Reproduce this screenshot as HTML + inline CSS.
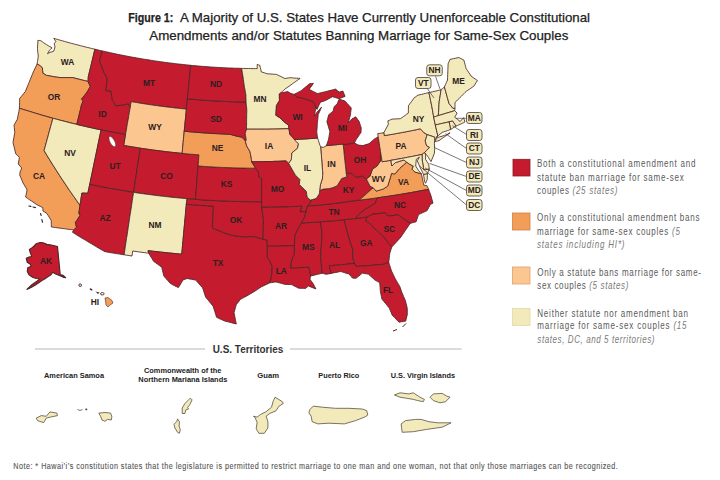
<!DOCTYPE html>
<html><head><meta charset="utf-8"><style>
html,body{margin:0;padding:0;background:#fff;width:720px;height:480px;overflow:hidden}
svg{display:block;font-family:"Liberation Sans",sans-serif}
</style></head><body>
<svg width="720" height="480" viewBox="0 0 720 480">
<rect width="720" height="480" fill="#fff"/>
<g font-size="12.9" fill="#222" stroke="#222" stroke-width="0.25">
<text x="128.3" y="21.7" textLength="45" lengthAdjust="spacingAndGlyphs" font-weight="bold">Figure 1:</text>
<text x="180" y="21.7" textLength="410" lengthAdjust="spacingAndGlyphs">A Majority of U.S. States Have Currently Unenforceable Constitutional</text>
<text x="149.3" y="40" textLength="419" lengthAdjust="spacingAndGlyphs">Amendments and/or Statutes Banning Marriage for Same-Sex Couples</text>
</g>
<g stroke="#4a2626" stroke-width="0.85" stroke-linejoin="round">
<path d="M37.9,40.3 L39.3,40.5 L40.8,40.7 L42.2,41.7 L43.6,42.7 L45.0,43.7 L46.7,44.7 L48.3,45.7 L50.0,46.7 L51.1,47.2 L52.1,47.8 L50.7,49.2 L49.2,50.6 L48.4,52.2 L47.5,53.7 L48.8,53.0 L50.0,52.4 L51.9,51.8 L53.7,51.2 L54.4,49.1 L55.0,47.0 L54.6,45.4 L54.2,43.7 L55.8,41.6 L54.8,39.9 L53.8,38.3 L55.5,38.8 L57.3,39.4 L59.1,39.9 L60.9,40.4 L62.7,40.9 L64.4,41.4 L66.2,41.9 L68.0,42.4 L69.8,42.9 L71.6,43.4 L73.4,43.8 L75.2,44.3 L77.0,44.8 L78.8,45.2 L80.5,45.7 L82.3,46.2 L84.1,46.6 L85.9,47.1 L87.7,47.5 L89.5,47.9 L91.3,48.4 L93.1,48.8 L94.9,49.2 L94.3,51.7 L93.7,54.2 L93.1,56.7 L92.5,59.2 L91.9,61.7 L91.3,64.2 L90.7,66.7 L90.1,69.2 L89.5,71.7 L88.9,74.2 L88.3,76.7 L88.2,79.1 L88.1,81.5 L86.3,81.0 L84.6,80.6 L82.8,80.2 L81.1,79.8 L79.4,79.3 L77.6,78.9 L75.9,78.4 L74.1,78.0 L72.4,77.5 L71.1,77.6 L69.8,77.6 L67.8,77.6 L65.9,77.6 L63.9,77.6 L62.0,77.6 L60.0,77.6 L58.2,77.3 L56.3,77.1 L54.5,76.8 L52.9,76.5 L51.2,76.2 L49.6,75.9 L47.9,75.6 L46.3,75.3 L45.1,74.6 L44.0,73.9 L42.8,73.1 L42.6,70.5 L42.4,67.8 L40.8,66.4 L39.2,65.1 L38.1,64.6 L37.0,64.1 L37.5,61.5 L37.9,58.9 L38.3,56.2 L38.0,53.7 L37.7,51.2 L37.5,48.7 L37.6,45.9 L37.8,43.1Z" fill="#f2eabb"/><path d="M37.0,64.1 L38.1,64.6 L39.2,65.1 L40.8,66.4 L42.4,67.8 L42.6,70.5 L42.8,73.1 L44.0,73.9 L45.1,74.6 L46.3,75.3 L47.9,75.6 L49.6,75.9 L51.2,76.2 L52.9,76.5 L54.5,76.8 L56.3,77.1 L58.2,77.3 L60.0,77.6 L62.0,77.6 L63.9,77.6 L65.9,77.6 L67.8,77.6 L69.8,77.6 L71.1,77.6 L72.4,77.5 L74.1,78.0 L75.9,78.4 L77.6,78.9 L79.4,79.3 L81.1,79.8 L82.8,80.2 L84.6,80.6 L86.3,81.0 L88.1,81.5 L89.2,84.0 L90.3,86.5 L88.9,89.0 L87.4,91.5 L86.0,93.5 L84.5,95.4 L83.0,97.3 L81.5,99.2 L83.2,100.8 L82.4,102.9 L81.5,104.9 L80.9,107.4 L80.4,109.8 L79.8,112.2 L79.2,114.7 L78.6,117.1 L78.0,119.5 L77.4,122.0 L76.8,124.4 L74.8,123.9 L72.8,123.4 L70.8,122.9 L68.9,122.4 L66.9,121.9 L64.9,121.4 L62.9,120.9 L60.9,120.4 L58.9,119.9 L56.9,119.3 L54.9,118.8 L52.9,118.3 L50.9,117.7 L49.0,117.2 L47.0,116.6 L45.0,116.0 L43.0,115.5 L41.0,114.9 L39.1,114.3 L37.1,113.7 L35.1,113.1 L33.2,112.5 L31.2,111.9 L29.2,111.3 L27.3,110.7 L25.3,110.1 L23.3,109.5 L21.4,108.9 L19.4,108.2 L19.5,105.3 L19.6,102.5 L19.6,100.5 L19.6,98.5 L21.1,96.7 L22.5,95.0 L23.9,93.2 L25.4,91.5 L26.3,89.1 L27.3,86.8 L28.2,84.5 L29.2,82.2 L30.2,79.6 L31.3,77.0 L32.3,74.5 L33.3,71.9 L34.3,70.0 L35.2,68.0 L36.1,66.1Z" fill="#f29d58"/><path d="M19.4,108.2 L21.4,108.9 L23.3,109.5 L25.3,110.1 L27.3,110.7 L29.2,111.3 L31.2,111.9 L33.2,112.5 L35.1,113.1 L37.1,113.7 L39.1,114.3 L41.1,114.9 L43.0,115.5 L45.0,116.0 L47.0,116.6 L49.0,117.2 L51.0,117.7 L52.9,118.3 L52.2,120.9 L51.5,123.6 L50.7,126.3 L50.0,129.0 L49.2,131.7 L48.5,134.4 L47.8,137.1 L47.0,139.8 L46.3,142.5 L45.6,145.2 L44.8,147.8 L44.1,150.5 L45.6,153.1 L47.1,155.6 L48.6,158.1 L50.2,160.6 L51.7,163.1 L53.3,165.6 L54.9,168.1 L56.5,170.6 L58.1,173.1 L59.7,175.6 L61.3,178.1 L63.0,180.6 L64.6,183.0 L66.3,185.5 L67.9,188.0 L69.6,190.5 L71.3,192.9 L73.0,195.4 L74.8,197.9 L76.5,200.3 L78.2,202.8 L80.0,205.2 L79.6,207.8 L79.3,210.4 L78.9,213.0 L80.0,215.5 L78.5,217.8 L77.0,220.2 L75.4,222.5 L76.0,224.9 L76.5,227.3 L75.2,228.6 L73.8,229.9 L71.6,229.6 L69.3,229.4 L67.1,229.1 L64.8,228.8 L62.6,228.5 L60.3,228.2 L58.1,227.9 L55.8,227.6 L53.6,227.3 L51.3,226.9 L51.3,224.7 L51.2,222.6 L51.2,220.4 L49.8,218.1 L48.4,215.9 L47.0,213.6 L45.0,212.2 L42.9,210.9 L42.9,209.2 L42.8,207.6 L40.8,206.6 L38.9,205.7 L36.9,204.7 L35.0,203.4 L33.1,202.1 L31.2,200.8 L29.3,199.6 L27.5,198.3 L25.6,197.0 L26.1,194.6 L26.6,192.2 L27.1,189.9 L25.7,187.5 L24.4,185.2 L23.0,182.9 L21.9,180.2 L20.8,177.6 L19.7,174.9 L19.9,173.3 L20.2,171.6 L21.0,169.8 L21.7,168.0 L20.0,166.0 L18.3,164.0 L18.6,161.8 L19.0,159.6 L19.4,157.3 L17.6,155.6 L15.8,153.9 L15.1,151.1 L14.4,148.2 L13.7,145.3 L13.0,142.5 L13.4,140.0 L13.9,137.5 L14.3,135.0 L14.8,132.5 L14.5,130.1 L14.3,127.7 L14.0,125.2 L15.1,123.2 L16.2,121.3 L17.3,119.3 L17.8,116.7 L18.3,114.1 L18.9,111.6 L19.1,109.9Z" fill="#f29d58"/><path d="M52.9,118.3 L54.9,118.8 L56.9,119.3 L58.9,119.9 L60.9,120.4 L62.9,120.9 L64.9,121.4 L66.9,122.0 L68.9,122.5 L70.9,123.0 L72.9,123.5 L74.9,123.9 L76.9,124.4 L78.9,124.9 L80.9,125.4 L83.0,125.9 L85.0,126.3 L87.0,126.8 L89.0,127.2 L91.0,127.7 L93.0,128.1 L95.0,128.6 L97.1,129.0 L99.1,129.4 L101.1,129.8 L100.5,132.5 L100.0,135.1 L99.5,137.8 L98.9,140.4 L98.4,143.0 L97.8,145.7 L97.3,148.3 L96.7,150.9 L96.2,153.6 L95.6,156.2 L95.1,158.9 L94.5,161.5 L93.9,164.2 L93.4,166.8 L92.8,169.4 L92.3,172.1 L91.7,174.7 L91.2,177.4 L90.6,180.0 L90.1,182.7 L89.5,185.3 L89.0,187.9 L88.4,190.6 L87.9,193.2 L85.9,193.2 L83.9,193.1 L81.9,193.1 L81.5,195.5 L81.1,198.0 L80.8,200.4 L80.4,202.8 L80.0,205.2 L78.2,202.8 L76.5,200.3 L74.8,197.9 L73.0,195.4 L71.3,192.9 L69.6,190.5 L67.9,188.0 L66.3,185.5 L64.6,183.0 L63.0,180.6 L61.3,178.1 L59.7,175.6 L58.1,173.1 L56.5,170.6 L54.9,168.1 L53.3,165.6 L51.7,163.1 L50.2,160.6 L48.6,158.1 L47.1,155.6 L45.6,153.1 L44.1,150.5 L44.8,147.8 L45.6,145.2 L46.3,142.5 L47.0,139.8 L47.8,137.1 L48.5,134.4 L49.2,131.7 L50.0,129.0 L50.7,126.3 L51.5,123.6 L52.2,120.9Z" fill="#f2eabb"/><path d="M94.9,49.2 L96.7,49.6 L98.5,50.1 L100.3,50.5 L102.1,50.9 L101.6,53.1 L101.1,55.2 L100.6,57.4 L100.1,59.6 L99.6,61.8 L100.5,63.6 L101.5,65.4 L102.3,68.0 L103.1,70.7 L104.5,73.3 L105.9,75.9 L107.3,78.5 L107.0,80.9 L106.7,83.3 L106.5,85.7 L106.2,88.2 L105.9,90.6 L107.6,90.7 L109.3,90.9 L111.1,91.1 L111.4,93.8 L111.8,96.5 L112.2,99.2 L113.4,101.5 L114.6,103.7 L115.8,105.9 L117.9,105.6 L120.0,105.4 L122.1,105.1 L124.1,104.7 L126.2,104.3 L128.2,103.9 L129.2,105.5 L130.3,107.1 L129.8,109.8 L129.3,112.6 L128.8,115.3 L128.4,118.0 L127.9,120.8 L127.4,123.5 L126.9,126.3 L126.5,129.0 L126.0,131.7 L125.5,134.5 L123.5,134.1 L121.4,133.8 L119.4,133.4 L117.4,133.0 L115.3,132.6 L113.3,132.3 L111.3,131.9 L109.2,131.5 L107.2,131.1 L105.2,130.7 L103.1,130.3 L101.1,129.8 L99.1,129.4 L97.0,129.0 L95.0,128.6 L93.0,128.1 L91.0,127.7 L88.9,127.2 L86.9,126.8 L84.9,126.3 L82.9,125.8 L80.9,125.4 L78.9,124.9 L76.8,124.4 L77.4,122.0 L78.0,119.5 L78.6,117.1 L79.2,114.7 L79.8,112.2 L80.4,109.8 L80.9,107.4 L81.5,104.9 L82.4,102.9 L83.2,100.8 L81.5,99.2 L83.0,97.3 L84.5,95.4 L86.0,93.5 L87.4,91.5 L88.9,89.0 L90.3,86.5 L89.2,84.0 L88.1,81.5 L88.2,79.1 L88.3,76.7 L88.9,74.2 L89.5,71.7 L90.1,69.2 L90.7,66.7 L91.3,64.2 L91.9,61.7 L92.5,59.2 L93.1,56.7 L93.7,54.2 L94.3,51.7Z" fill="#c41c2e"/><path d="M102.1,50.9 L103.9,51.3 L105.7,51.7 L107.6,52.1 L109.4,52.5 L111.2,52.9 L113.0,53.3 L114.9,53.7 L116.7,54.1 L118.5,54.5 L120.4,54.8 L122.2,55.2 L124.0,55.6 L125.9,55.9 L127.7,56.3 L129.5,56.6 L131.4,57.0 L133.2,57.3 L135.1,57.6 L136.9,58.0 L138.8,58.3 L140.6,58.6 L142.4,58.9 L144.3,59.2 L146.1,59.5 L148.0,59.8 L149.8,60.1 L151.7,60.4 L153.5,60.7 L155.4,61.0 L157.2,61.2 L159.1,61.5 L160.9,61.8 L162.8,62.0 L164.6,62.3 L166.5,62.5 L168.3,62.8 L170.2,63.0 L172.1,63.2 L173.9,63.5 L175.8,63.7 L177.6,63.9 L179.5,64.1 L181.4,64.3 L183.2,64.5 L185.1,64.7 L186.9,64.9 L188.8,65.1 L190.7,65.3 L190.4,68.0 L190.1,70.7 L189.9,73.5 L189.6,76.2 L189.3,78.9 L189.1,81.7 L188.8,84.4 L188.5,87.1 L188.3,89.9 L188.0,92.6 L187.7,95.4 L187.5,98.1 L187.2,100.9 L186.9,103.6 L186.7,106.4 L186.4,109.1 L184.4,108.9 L182.4,108.7 L180.5,108.5 L178.5,108.3 L176.5,108.1 L174.5,107.9 L172.5,107.6 L170.6,107.4 L168.6,107.2 L166.6,106.9 L164.7,106.7 L162.7,106.4 L160.7,106.2 L158.7,105.9 L156.8,105.6 L154.8,105.4 L152.8,105.1 L150.9,104.8 L148.9,104.5 L146.9,104.2 L145.0,103.9 L143.0,103.6 L141.0,103.3 L139.1,103.0 L137.1,102.6 L135.1,102.3 L133.2,102.0 L131.2,101.6 L130.7,104.4 L130.3,107.1 L129.2,105.5 L128.2,103.9 L126.2,104.3 L124.1,104.7 L122.1,105.1 L120.0,105.4 L117.9,105.6 L115.8,105.9 L114.6,103.7 L113.4,101.5 L112.2,99.2 L111.8,96.5 L111.4,93.8 L111.1,91.1 L109.3,90.9 L107.6,90.7 L105.9,90.6 L106.2,88.2 L106.5,85.7 L106.7,83.3 L107.0,80.9 L107.3,78.5 L105.9,75.9 L104.5,73.3 L103.1,70.7 L102.3,68.0 L101.5,65.4 L100.5,63.6 L99.6,61.8 L100.1,59.6 L100.6,57.4 L101.1,55.2 L101.6,53.1Z" fill="#c41c2e"/><path d="M131.2,101.6 L133.2,102.0 L135.1,102.3 L137.1,102.6 L139.1,103.0 L141.0,103.3 L143.0,103.6 L145.0,103.9 L146.9,104.2 L148.9,104.5 L150.9,104.8 L152.8,105.1 L154.8,105.4 L156.8,105.6 L158.7,105.9 L160.7,106.2 L162.7,106.4 L164.7,106.7 L166.6,106.9 L168.6,107.2 L170.6,107.4 L172.5,107.6 L174.5,107.9 L176.5,108.1 L178.5,108.3 L180.5,108.5 L182.4,108.7 L184.4,108.9 L186.4,109.1 L186.1,111.9 L185.9,114.6 L185.6,117.4 L185.3,120.2 L185.0,122.9 L184.8,125.7 L184.5,128.4 L184.2,131.2 L184.0,134.0 L183.7,136.7 L183.4,139.5 L183.2,142.3 L182.9,145.1 L182.6,147.8 L182.4,150.6 L182.1,153.4 L180.0,153.2 L177.9,153.0 L175.8,152.7 L173.7,152.5 L171.6,152.3 L169.5,152.1 L167.4,151.8 L165.3,151.6 L163.2,151.3 L161.1,151.1 L159.0,150.8 L157.0,150.5 L154.9,150.3 L152.8,150.0 L150.7,149.7 L148.6,149.4 L146.5,149.1 L144.4,148.8 L142.3,148.5 L140.3,148.2 L138.2,147.9 L136.1,147.5 L134.0,147.2 L131.9,146.9 L129.8,146.5 L127.8,146.2 L125.7,145.8 L123.6,145.5 L124.1,142.7 L124.6,140.0 L125.0,137.2 L125.5,134.5 L126.0,131.7 L126.5,129.0 L126.9,126.3 L127.4,123.5 L127.9,120.8 L128.4,118.0 L128.8,115.3 L129.3,112.6 L129.8,109.8 L130.3,107.1 L130.7,104.4Z" fill="#fbc68f"/><path d="M101.0,129.8 L103.1,130.2 L105.1,130.7 L107.1,131.1 L109.2,131.5 L111.2,131.9 L113.2,132.3 L115.3,132.6 L117.3,133.0 L119.4,133.4 L121.4,133.8 L123.5,134.1 L125.5,134.5 L125.0,137.2 L124.6,140.0 L124.1,142.7 L123.6,145.5 L125.7,145.8 L127.8,146.2 L129.8,146.5 L131.9,146.9 L134.0,147.2 L136.1,147.5 L138.2,147.9 L140.3,148.2 L139.8,150.9 L139.4,153.7 L139.0,156.5 L138.6,159.2 L138.2,162.0 L137.7,164.7 L137.3,167.5 L136.9,170.2 L136.5,173.0 L136.1,175.8 L135.6,178.5 L135.2,181.3 L134.8,184.0 L134.4,186.8 L134.0,189.6 L133.6,192.3 L131.3,192.0 L129.1,191.7 L126.9,191.3 L124.7,190.9 L122.6,190.6 L120.4,190.2 L118.2,189.8 L116.0,189.5 L113.8,189.1 L111.6,188.7 L109.4,188.3 L107.2,187.9 L105.0,187.5 L102.8,187.1 L100.6,186.7 L98.4,186.2 L96.3,185.8 L94.1,185.4 L91.9,184.9 L89.7,184.5 L90.3,181.7 L90.8,179.0 L91.4,176.3 L92.0,173.5 L92.5,170.8 L93.1,168.1 L93.7,165.3 L94.2,162.6 L94.8,159.9 L95.4,157.1 L95.9,154.4 L96.5,151.7 L97.1,148.9 L97.6,146.2 L98.2,143.5 L98.8,140.7 L99.3,138.0 L99.9,135.3 L100.5,132.6Z" fill="#c41c2e"/><path d="M140.3,148.2 L142.3,148.5 L144.4,148.8 L146.5,149.1 L148.6,149.4 L150.7,149.7 L152.8,150.0 L154.9,150.3 L157.0,150.5 L159.0,150.8 L161.1,151.1 L163.2,151.3 L165.3,151.6 L167.4,151.8 L169.5,152.1 L171.6,152.3 L173.7,152.5 L175.8,152.7 L177.9,153.0 L180.0,153.2 L182.1,153.4 L184.2,153.6 L186.3,153.8 L188.4,154.0 L190.5,154.2 L192.6,154.3 L194.7,154.5 L196.8,154.7 L198.9,154.8 L198.7,157.6 L198.5,160.4 L198.3,163.2 L198.0,166.0 L197.8,168.7 L197.6,171.5 L197.4,174.3 L197.2,177.1 L197.0,179.9 L196.8,182.7 L196.6,185.4 L196.4,188.2 L196.1,191.0 L195.9,193.8 L195.7,196.6 L195.5,199.4 L193.3,199.2 L191.1,199.0 L188.9,198.8 L186.6,198.6 L184.4,198.5 L182.2,198.3 L180.0,198.0 L177.8,197.8 L175.5,197.6 L173.3,197.4 L171.1,197.2 L168.9,196.9 L166.7,196.7 L164.5,196.4 L162.3,196.2 L160.0,195.9 L157.8,195.7 L155.6,195.4 L153.4,195.1 L151.2,194.8 L149.0,194.5 L146.8,194.2 L144.6,193.9 L142.4,193.6 L140.2,193.3 L138.0,193.0 L135.8,192.7 L133.6,192.3 L134.0,189.6 L134.4,186.8 L134.8,184.0 L135.2,181.3 L135.6,178.5 L136.1,175.8 L136.5,173.0 L136.9,170.2 L137.3,167.5 L137.7,164.7 L138.2,162.0 L138.6,159.2 L139.0,156.5 L139.4,153.7 L139.8,150.9Z" fill="#c41c2e"/><path d="M89.7,184.5 L91.9,184.9 L94.1,185.4 L96.3,185.8 L98.4,186.2 L100.6,186.7 L102.8,187.1 L105.0,187.5 L107.2,187.9 L109.4,188.3 L111.6,188.7 L113.8,189.1 L116.0,189.5 L118.2,189.8 L120.4,190.2 L122.6,190.6 L124.7,190.9 L126.9,191.3 L129.1,191.7 L131.3,192.0 L133.6,192.3 L133.1,195.1 L132.7,197.8 L132.3,200.5 L131.9,203.2 L131.5,205.9 L131.1,208.7 L130.7,211.4 L130.2,214.1 L129.8,216.8 L129.4,219.5 L129.0,222.3 L128.6,225.0 L128.2,227.7 L127.8,230.4 L127.4,233.1 L127.0,235.8 L126.5,238.5 L126.1,241.3 L125.7,244.0 L125.3,246.7 L124.9,249.4 L124.5,252.1 L124.1,254.8 L121.9,254.5 L119.8,254.1 L117.7,253.8 L115.6,253.5 L113.4,253.1 L111.3,252.8 L109.2,252.4 L107.1,252.0 L105.0,251.7 L102.7,250.4 L100.5,249.2 L98.3,247.9 L96.1,246.6 L94.0,245.3 L91.8,244.0 L89.6,242.7 L87.4,241.4 L85.3,240.1 L83.1,238.8 L80.9,237.5 L78.8,236.2 L76.7,234.9 L74.5,233.5 L72.4,232.2 L73.8,229.9 L75.2,228.6 L76.5,227.3 L76.0,224.9 L75.4,222.5 L77.0,220.2 L78.5,217.8 L80.0,215.5 L78.9,213.0 L79.3,210.4 L79.6,207.8 L80.0,205.2 L80.4,202.8 L80.8,200.4 L81.1,198.0 L81.5,195.5 L81.9,193.1 L83.9,193.1 L85.9,193.2 L87.9,193.2 L88.3,191.0 L88.8,188.8 L89.2,186.7Z" fill="#c41c2e"/><path d="M133.6,192.3 L135.7,192.7 L137.8,193.0 L140.0,193.3 L142.1,193.6 L144.2,193.9 L146.4,194.2 L148.5,194.5 L150.6,194.7 L152.8,195.0 L154.9,195.3 L157.1,195.6 L159.2,195.8 L161.3,196.1 L163.5,196.3 L165.6,196.6 L167.8,196.8 L169.9,197.0 L172.0,197.3 L174.2,197.5 L176.3,197.7 L178.5,197.9 L180.6,198.1 L182.8,198.3 L184.9,198.5 L187.1,198.7 L186.8,201.5 L186.5,204.2 L186.3,207.0 L186.0,209.8 L185.7,212.6 L185.5,215.4 L185.2,218.1 L184.9,220.9 L184.7,223.7 L184.4,226.5 L184.1,229.2 L183.9,232.0 L183.6,234.8 L183.3,237.6 L183.1,240.3 L182.8,243.1 L182.5,245.9 L182.3,248.6 L182.0,251.4 L181.7,254.2 L179.5,254.0 L177.2,253.8 L175.0,253.6 L172.7,253.3 L170.5,253.1 L168.3,252.9 L166.0,252.7 L163.8,252.4 L161.5,252.2 L159.3,251.9 L157.0,251.7 L154.8,251.4 L152.6,251.2 L150.3,250.9 L148.1,250.6 L148.6,253.1 L146.4,252.9 L144.1,252.6 L141.8,252.3 L139.5,252.0 L137.3,251.7 L135.0,251.3 L132.7,251.0 L132.4,253.5 L132.0,256.0 L130.0,255.7 L128.1,255.4 L126.1,255.1 L124.1,254.8 L124.5,252.1 L124.9,249.4 L125.3,246.7 L125.7,244.0 L126.1,241.3 L126.5,238.5 L127.0,235.8 L127.4,233.1 L127.8,230.4 L128.2,227.7 L128.6,225.0 L129.0,222.3 L129.4,219.5 L129.8,216.8 L130.2,214.1 L130.7,211.4 L131.1,208.7 L131.5,205.9 L131.9,203.2 L132.3,200.5 L132.7,197.8 L133.1,195.1Z" fill="#f2eabb"/><path d="M186.2,204.2 L188.3,204.4 L190.4,204.6 L192.5,204.7 L194.6,204.9 L196.7,205.1 L198.8,205.2 L200.9,205.4 L203.0,205.5 L205.1,205.6 L207.2,205.8 L209.3,205.9 L211.3,206.0 L213.4,206.1 L213.3,208.8 L213.2,211.5 L213.0,214.2 L212.9,216.9 L212.7,219.6 L212.6,222.3 L212.4,225.0 L212.3,227.7 L214.5,228.8 L216.8,229.8 L219.1,230.7 L221.3,231.6 L223.6,232.6 L225.9,233.5 L228.2,234.1 L230.5,234.8 L232.8,235.4 L235.1,236.0 L237.2,236.2 L239.2,236.4 L241.3,236.6 L243.4,236.8 L245.5,236.7 L247.5,236.7 L249.5,236.6 L251.6,236.6 L253.6,236.5 L255.5,237.0 L257.3,237.5 L259.2,238.0 L261.2,238.6 L263.1,239.2 L265.2,239.7 L267.2,240.2 L267.2,242.2 L267.3,244.1 L267.3,246.1 L267.3,248.4 L267.3,250.7 L267.4,253.0 L267.4,255.3 L267.4,257.5 L268.6,259.1 L269.7,260.7 L271.0,263.5 L272.2,266.3 L272.1,268.8 L272.0,271.4 L271.8,274.0 L271.4,276.5 L270.9,279.0 L270.2,281.0 L269.5,282.9 L267.5,283.9 L265.4,284.9 L263.3,285.9 L261.2,286.9 L259.3,288.2 L257.3,289.6 L255.1,291.0 L252.8,292.4 L250.6,293.7 L248.4,295.1 L246.4,296.2 L244.4,297.2 L242.4,298.3 L240.3,299.4 L238.3,302.1 L236.2,304.8 L235.5,307.4 L234.8,309.9 L234.0,312.5 L234.5,314.8 L234.9,317.1 L235.4,319.4 L235.8,321.7 L236.3,324.0 L234.0,323.4 L231.7,322.8 L229.4,322.2 L227.0,321.6 L224.6,321.0 L222.6,320.1 L220.6,319.2 L218.6,318.3 L216.6,317.3 L215.7,314.6 L214.9,311.8 L214.0,309.0 L213.1,306.2 L211.2,303.9 L209.3,301.6 L207.4,299.3 L205.6,297.0 L204.8,294.7 L204.1,292.4 L203.4,290.2 L202.6,287.9 L200.3,285.3 L198.0,282.7 L195.8,280.1 L193.6,279.7 L191.4,279.3 L189.2,278.9 L187.1,278.5 L185.1,279.2 L183.0,279.9 L181.5,282.5 L180.0,285.0 L178.4,287.6 L176.5,286.7 L174.6,285.8 L172.3,284.5 L170.0,283.1 L167.9,280.7 L165.8,278.3 L163.8,275.9 L163.1,273.0 L162.4,270.1 L161.8,267.3 L159.7,265.8 L157.7,264.3 L155.7,262.8 L153.7,261.4 L152.0,258.6 L150.3,255.9 L148.6,253.1 L148.1,250.6 L150.3,250.9 L152.6,251.2 L154.8,251.4 L157.0,251.7 L159.3,251.9 L161.5,252.2 L163.8,252.4 L166.0,252.7 L168.3,252.9 L170.5,253.1 L172.7,253.3 L175.0,253.6 L177.2,253.8 L179.5,254.0 L181.7,254.2 L182.0,251.4 L182.2,248.6 L182.5,245.9 L182.7,243.1 L183.0,240.3 L183.2,237.5 L183.5,234.8 L183.7,232.0 L184.0,229.2 L184.2,226.4 L184.5,223.7 L184.7,220.9 L185.0,218.1 L185.2,215.3 L185.5,212.6 L185.7,209.8 L186.0,207.0Z" fill="#c41c2e"/><path d="M187.1,198.7 L189.3,198.9 L191.5,199.1 L193.6,199.2 L195.8,199.4 L198.0,199.6 L200.2,199.7 L202.4,199.9 L204.6,200.0 L206.8,200.1 L209.0,200.3 L211.2,200.4 L213.4,200.5 L215.6,200.6 L217.8,200.8 L219.9,200.9 L222.1,201.0 L224.3,201.0 L226.5,201.1 L228.7,201.2 L230.9,201.3 L233.1,201.4 L235.3,201.4 L237.5,201.5 L239.7,201.5 L241.9,201.6 L244.1,201.6 L246.3,201.7 L248.5,201.7 L250.7,201.7 L252.9,201.7 L255.1,201.7 L257.3,201.7 L259.5,201.7 L261.7,201.7 L261.7,204.5 L261.7,207.3 L262.0,209.8 L262.4,212.2 L262.7,214.7 L263.1,217.1 L263.5,219.6 L263.4,222.0 L263.4,224.5 L263.3,227.0 L263.3,229.4 L263.2,231.9 L263.2,234.3 L263.2,236.8 L263.1,239.2 L261.2,238.6 L259.2,238.0 L257.3,237.5 L255.5,237.0 L253.6,236.5 L251.6,236.6 L249.5,236.6 L247.5,236.7 L245.5,236.7 L243.4,236.8 L241.3,236.6 L239.2,236.4 L237.2,236.2 L235.1,236.0 L232.8,235.4 L230.5,234.8 L228.2,234.1 L225.9,233.5 L223.6,232.6 L221.3,231.6 L219.1,230.7 L216.8,229.8 L214.5,228.8 L212.3,227.7 L212.4,225.0 L212.6,222.3 L212.7,219.6 L212.9,216.9 L213.0,214.2 L213.2,211.5 L213.3,208.8 L213.4,206.1 L211.3,206.0 L209.3,205.9 L207.2,205.8 L205.1,205.6 L203.0,205.5 L200.9,205.4 L198.8,205.2 L196.7,205.1 L194.6,204.9 L192.5,204.7 L190.4,204.6 L188.3,204.4 L186.2,204.2 L186.7,201.5Z" fill="#c41c2e"/><path d="M198.0,166.0 L200.2,166.1 L202.3,166.3 L204.4,166.4 L206.6,166.6 L208.7,166.7 L210.8,166.8 L213.0,167.0 L215.1,167.1 L217.2,167.2 L219.3,167.3 L221.5,167.4 L223.6,167.5 L225.7,167.6 L227.9,167.7 L230.0,167.7 L232.1,167.8 L234.3,167.9 L236.4,167.9 L238.5,168.0 L240.7,168.0 L242.8,168.1 L244.9,168.1 L247.1,168.2 L249.2,168.2 L251.4,168.2 L253.5,168.2 L255.6,168.2 L256.9,169.9 L258.3,171.6 L258.7,174.4 L259.1,177.2 L260.4,177.6 L261.7,178.1 L261.7,180.7 L261.7,183.3 L261.7,185.9 L261.7,188.6 L261.7,191.2 L261.7,193.8 L261.7,196.5 L261.7,199.1 L261.7,201.7 L259.5,201.7 L257.2,201.7 L255.0,201.7 L252.8,201.7 L250.6,201.7 L248.4,201.7 L246.2,201.7 L244.0,201.6 L241.8,201.6 L239.6,201.5 L237.4,201.5 L235.2,201.4 L233.0,201.4 L230.8,201.3 L228.6,201.2 L226.4,201.1 L224.2,201.0 L221.9,200.9 L219.7,200.8 L217.5,200.7 L215.3,200.6 L213.1,200.5 L210.9,200.4 L208.7,200.3 L206.5,200.1 L204.3,200.0 L202.1,199.8 L199.9,199.7 L197.7,199.5 L195.5,199.4 L195.7,196.6 L195.9,193.8 L196.1,191.0 L196.4,188.2 L196.6,185.4 L196.8,182.7 L197.0,179.9 L197.2,177.1 L197.4,174.3 L197.6,171.5 L197.8,168.7Z" fill="#c41c2e"/><path d="M184.2,131.2 L186.2,131.4 L188.2,131.6 L190.1,131.8 L192.1,131.9 L194.1,132.1 L196.1,132.3 L198.0,132.4 L200.0,132.6 L202.0,132.7 L203.9,132.9 L205.9,133.0 L207.9,133.1 L209.9,133.3 L211.8,133.4 L213.8,133.5 L215.8,133.6 L217.8,133.7 L219.7,133.8 L221.7,133.9 L223.7,134.0 L225.7,134.1 L227.6,134.2 L229.6,134.3 L231.4,134.7 L233.3,135.2 L235.1,135.7 L236.9,136.2 L238.6,136.5 L240.2,136.9 L241.8,137.2 L243.4,138.7 L245.1,140.3 L245.9,143.1 L246.6,145.8 L248.3,148.7 L249.9,151.5 L250.5,154.3 L251.1,157.0 L251.5,159.8 L251.9,162.6 L253.8,165.4 L255.6,168.2 L253.5,168.2 L251.4,168.2 L249.2,168.2 L247.1,168.2 L244.9,168.1 L242.8,168.1 L240.7,168.0 L238.5,168.0 L236.4,167.9 L234.3,167.9 L232.1,167.8 L230.0,167.7 L227.9,167.7 L225.7,167.6 L223.6,167.5 L221.5,167.4 L219.3,167.3 L217.2,167.2 L215.1,167.1 L213.0,167.0 L210.8,166.8 L208.7,166.7 L206.6,166.6 L204.4,166.4 L202.3,166.3 L200.2,166.1 L198.0,166.0 L198.3,163.2 L198.5,160.4 L198.7,157.6 L198.9,154.8 L196.8,154.7 L194.7,154.5 L192.6,154.3 L190.5,154.2 L188.4,154.0 L186.3,153.8 L184.2,153.6 L182.1,153.4 L182.4,150.6 L182.6,147.8 L182.9,145.1 L183.2,142.3 L183.4,139.5 L183.7,136.7 L184.0,134.0Z" fill="#f29d58"/><path d="M187.4,98.8 L189.3,99.0 L191.3,99.1 L193.2,99.3 L195.2,99.5 L197.2,99.6 L199.1,99.8 L201.1,100.0 L203.0,100.1 L205.0,100.3 L206.9,100.4 L208.9,100.5 L210.8,100.7 L212.8,100.8 L214.7,100.9 L216.7,101.0 L218.6,101.1 L220.6,101.2 L222.6,101.3 L224.5,101.4 L226.5,101.5 L228.4,101.6 L230.4,101.7 L232.3,101.7 L234.3,101.8 L236.2,101.9 L238.2,101.9 L240.2,102.0 L242.1,102.0 L244.1,102.1 L246.0,102.1 L246.3,104.5 L246.5,106.8 L246.8,109.2 L246.8,111.7 L246.7,114.2 L246.7,116.7 L246.6,119.2 L246.6,121.7 L246.6,124.2 L246.5,126.7 L246.5,129.2 L245.8,131.4 L245.2,133.6 L245.6,135.8 L245.9,138.0 L246.3,140.3 L245.1,140.3 L243.4,138.7 L241.8,137.2 L240.2,136.9 L238.6,136.5 L236.9,136.2 L235.1,135.7 L233.3,135.2 L231.4,134.7 L229.6,134.3 L227.6,134.2 L225.7,134.1 L223.7,134.0 L221.7,133.9 L219.7,133.8 L217.8,133.7 L215.8,133.6 L213.8,133.5 L211.8,133.4 L209.9,133.3 L207.9,133.1 L205.9,133.0 L203.9,132.9 L202.0,132.7 L200.0,132.6 L198.0,132.4 L196.1,132.3 L194.1,132.1 L192.1,131.9 L190.1,131.8 L188.2,131.6 L186.2,131.4 L184.2,131.2 L184.5,128.5 L184.8,125.8 L185.0,123.1 L185.3,120.4 L185.6,117.7 L185.8,115.0 L186.1,112.3 L186.3,109.6 L186.6,106.9 L186.9,104.2 L187.1,101.5Z" fill="#c41c2e"/><path d="M190.7,65.3 L192.5,65.5 L194.3,65.6 L196.1,65.8 L197.9,66.0 L199.7,66.1 L201.5,66.3 L203.4,66.4 L205.2,66.6 L207.0,66.7 L208.8,66.8 L210.6,67.0 L212.5,67.1 L214.3,67.2 L216.1,67.3 L217.9,67.4 L219.7,67.5 L221.6,67.6 L223.4,67.7 L225.2,67.8 L227.0,67.9 L228.8,68.0 L230.7,68.0 L232.5,68.1 L234.3,68.2 L236.1,68.2 L237.9,68.3 L239.8,68.3 L241.6,68.4 L242.0,70.6 L242.3,72.8 L242.7,75.0 L243.1,77.2 L243.4,79.7 L243.8,82.3 L244.1,84.9 L244.5,87.4 L245.0,89.8 L245.4,92.3 L245.9,94.8 L245.9,97.2 L246.0,99.7 L246.0,102.1 L244.1,102.1 L242.1,102.0 L240.2,102.0 L238.2,101.9 L236.2,101.9 L234.3,101.8 L232.3,101.7 L230.4,101.7 L228.4,101.6 L226.5,101.5 L224.5,101.4 L222.6,101.3 L220.6,101.2 L218.6,101.1 L216.7,101.0 L214.7,100.9 L212.8,100.8 L210.8,100.7 L208.9,100.5 L206.9,100.4 L205.0,100.3 L203.0,100.1 L201.1,100.0 L199.1,99.8 L197.2,99.6 L195.2,99.5 L193.2,99.3 L191.3,99.1 L189.3,99.0 L187.4,98.8 L187.6,96.2 L187.9,93.6 L188.2,91.0 L188.4,88.4 L188.7,85.8 L188.9,83.3 L189.2,80.7 L189.4,78.1 L189.7,75.6 L189.9,73.0 L190.2,70.4 L190.4,67.9Z" fill="#c41c2e"/><path d="M241.6,68.4 L243.3,68.4 L245.0,68.5 L246.8,68.5 L248.5,68.5 L250.2,68.5 L252.0,68.6 L253.7,68.6 L255.4,68.6 L257.2,68.6 L257.2,66.5 L257.2,64.4 L258.5,64.9 L259.8,65.3 L260.3,67.5 L260.8,69.7 L261.3,71.9 L262.8,72.3 L264.3,72.8 L265.8,73.3 L267.3,73.8 L269.1,73.9 L270.9,74.0 L272.8,74.1 L274.6,74.3 L276.4,74.4 L278.1,75.2 L279.8,76.0 L281.5,76.8 L283.2,77.7 L284.9,78.5 L286.6,78.2 L288.4,78.0 L290.1,77.7 L291.8,77.8 L293.4,78.0 L295.1,78.1 L296.8,78.2 L298.4,78.3 L300.1,78.4 L298.2,79.7 L296.4,81.0 L294.6,82.3 L292.7,83.6 L290.8,85.0 L289.0,86.3 L287.1,87.6 L285.2,88.9 L283.7,90.3 L282.2,91.6 L280.7,92.9 L279.3,94.0 L279.4,96.1 L279.4,98.2 L279.5,100.4 L278.0,103.0 L276.4,105.7 L276.3,108.5 L276.1,111.3 L276.0,113.2 L275.8,115.2 L277.9,116.5 L279.9,117.8 L281.6,119.4 L283.2,121.1 L285.0,122.5 L286.8,123.9 L288.6,125.3 L288.8,127.0 L289.0,128.6 L287.0,128.7 L285.0,128.8 L282.9,128.8 L280.9,128.9 L278.9,129.0 L276.9,129.0 L274.8,129.1 L272.8,129.1 L270.8,129.1 L268.8,129.2 L266.7,129.2 L264.7,129.2 L262.7,129.2 L260.7,129.2 L258.6,129.2 L256.6,129.2 L254.6,129.2 L252.6,129.2 L250.5,129.2 L248.5,129.2 L246.5,129.2 L246.5,126.7 L246.6,124.2 L246.6,121.7 L246.6,119.2 L246.7,116.7 L246.7,114.2 L246.8,111.7 L246.8,109.2 L246.5,106.8 L246.3,104.5 L246.0,102.1 L246.0,99.7 L245.9,97.2 L245.9,94.8 L245.4,92.3 L245.0,89.8 L244.5,87.4 L244.1,84.9 L243.8,82.3 L243.4,79.7 L243.1,77.2 L242.7,75.0 L242.3,72.8 L242.0,70.6Z" fill="#f2eabb"/><path d="M246.5,129.2 L248.5,129.2 L250.5,129.2 L252.6,129.2 L254.6,129.2 L256.6,129.2 L258.6,129.2 L260.7,129.2 L262.7,129.2 L264.7,129.2 L266.7,129.2 L268.8,129.2 L270.8,129.1 L272.8,129.1 L274.8,129.1 L276.9,129.0 L278.9,129.0 L280.9,128.9 L282.9,128.8 L285.0,128.8 L287.0,128.7 L289.0,128.6 L289.4,131.4 L289.8,134.2 L291.7,136.3 L293.7,138.4 L295.3,140.2 L296.9,142.0 L298.5,143.8 L298.0,146.0 L297.5,148.3 L295.6,149.9 L293.7,151.4 L291.8,153.0 L291.7,155.3 L291.5,157.5 L291.3,159.7 L290.0,161.6 L288.7,163.4 L287.4,162.2 L286.0,160.9 L284.0,161.0 L282.0,161.1 L280.0,161.2 L277.9,161.3 L275.9,161.3 L273.9,161.4 L271.9,161.5 L269.9,161.5 L267.9,161.6 L265.9,161.6 L263.8,161.6 L261.8,161.7 L259.8,161.7 L257.8,161.7 L255.8,161.7 L253.8,161.7 L251.7,161.7 L251.4,159.4 L251.1,157.0 L250.5,154.3 L249.9,151.5 L248.3,148.7 L246.6,145.8 L245.9,143.1 L245.1,140.3 L246.3,140.3 L245.9,138.0 L245.6,135.8 L245.2,133.6 L245.8,131.4Z" fill="#fbc68f"/><path d="M251.7,161.7 L253.8,161.7 L255.8,161.7 L257.8,161.7 L259.8,161.7 L261.8,161.7 L263.8,161.6 L265.9,161.6 L267.9,161.6 L269.9,161.5 L271.9,161.5 L273.9,161.4 L275.9,161.3 L277.9,161.3 L280.0,161.2 L282.0,161.1 L284.0,161.0 L286.0,160.9 L287.4,162.2 L288.7,163.4 L290.0,165.7 L291.3,168.0 L292.6,170.3 L294.0,172.7 L295.4,175.2 L297.7,177.3 L299.9,179.5 L299.6,182.0 L299.3,184.5 L301.6,186.8 L304.0,189.1 L306.3,191.4 L306.7,194.2 L307.1,197.0 L308.9,198.7 L310.8,200.4 L310.5,201.9 L310.1,203.5 L308.9,204.7 L307.6,205.9 L306.8,208.7 L306.1,211.5 L304.1,211.7 L302.0,211.8 L300.0,211.9 L300.9,209.0 L301.8,206.2 L299.5,206.3 L297.3,206.4 L295.1,206.5 L292.9,206.6 L290.6,206.7 L288.4,206.8 L286.2,206.9 L284.0,206.9 L281.7,207.0 L279.5,207.1 L277.3,207.1 L275.0,207.2 L272.8,207.2 L270.6,207.2 L268.4,207.3 L266.1,207.3 L263.9,207.3 L261.7,207.3 L261.7,204.7 L261.7,202.0 L261.6,199.3 L261.6,196.7 L261.6,194.0 L261.6,191.4 L261.6,188.7 L261.6,186.0 L261.6,183.4 L261.6,180.7 L261.6,178.1 L260.3,177.6 L259.1,177.2 L258.7,174.4 L258.3,171.6 L256.9,169.9 L255.6,168.2 L254.3,166.1 L253.0,163.9Z" fill="#c41c2e"/><path d="M261.7,207.3 L263.9,207.3 L266.1,207.3 L268.4,207.3 L270.6,207.2 L272.8,207.2 L275.0,207.2 L277.3,207.1 L279.5,207.1 L281.7,207.0 L284.0,206.9 L286.2,206.9 L288.4,206.8 L290.6,206.7 L292.9,206.6 L295.1,206.5 L297.3,206.4 L299.5,206.3 L301.8,206.2 L300.9,209.0 L300.0,211.9 L302.0,211.8 L304.1,211.7 L306.1,211.5 L305.3,214.1 L304.6,216.7 L303.8,219.2 L303.0,221.8 L300.9,224.7 L298.7,227.6 L297.5,230.2 L296.2,232.9 L294.9,235.6 L294.8,238.1 L294.7,240.6 L294.5,243.1 L294.4,245.6 L292.1,245.7 L289.9,245.8 L287.6,245.9 L285.4,245.9 L283.1,246.0 L280.8,246.1 L278.6,246.1 L276.3,246.2 L274.1,246.2 L271.8,246.2 L269.5,246.3 L267.3,246.3 L267.3,244.3 L267.2,242.2 L267.2,240.2 L265.2,239.7 L263.1,239.2 L263.2,236.8 L263.2,234.3 L263.2,231.9 L263.3,229.4 L263.3,227.0 L263.4,224.5 L263.4,222.0 L263.5,219.6 L263.1,217.1 L262.7,214.7 L262.4,212.2 L262.0,209.8Z" fill="#c41c2e"/><path d="M267.3,246.3 L269.5,246.3 L271.8,246.2 L274.1,246.2 L276.3,246.2 L278.6,246.1 L280.8,246.1 L283.1,246.0 L285.4,245.9 L287.6,245.9 L289.9,245.8 L292.1,245.7 L294.4,245.6 L294.4,247.8 L294.4,250.1 L294.3,252.3 L294.3,254.5 L293.4,256.4 L292.5,258.3 L291.7,260.2 L291.3,262.8 L291.0,265.4 L290.7,268.0 L293.0,267.9 L295.3,267.8 L297.6,267.7 L299.8,267.6 L302.1,267.5 L304.4,267.4 L306.7,267.3 L309.0,267.1 L309.4,269.3 L309.9,271.5 L310.3,273.7 L310.7,275.9 L310.3,277.6 L310.0,279.3 L311.5,281.4 L313.1,283.6 L314.5,286.2 L315.9,288.9 L313.4,288.0 L310.9,287.0 L308.4,286.0 L307.0,287.2 L305.5,288.4 L303.2,288.3 L300.9,288.3 L298.6,288.2 L296.3,287.0 L293.9,285.8 L291.6,284.6 L289.3,284.5 L287.0,284.4 L284.7,284.3 L282.5,283.7 L280.3,283.1 L278.1,282.5 L275.9,281.9 L273.7,282.3 L271.6,282.6 L269.5,282.9 L270.2,281.0 L270.9,279.0 L271.4,276.5 L271.8,274.0 L272.0,271.4 L272.1,268.8 L272.2,266.3 L271.0,263.5 L269.7,260.7 L268.6,259.1 L267.4,257.5 L267.4,255.3 L267.4,253.0 L267.3,250.8 L267.3,248.6Z" fill="#c41c2e"/><path d="M301.3,223.0 L303.4,222.9 L305.5,222.8 L307.7,222.6 L309.8,222.5 L311.9,222.4 L314.0,222.2 L316.2,222.1 L318.3,222.0 L320.4,221.8 L320.9,224.6 L321.3,227.3 L321.7,230.1 L322.2,232.9 L322.0,235.5 L321.8,238.1 L321.7,240.7 L321.5,243.3 L321.3,245.9 L321.1,248.6 L320.9,251.2 L320.8,253.8 L320.6,256.4 L320.8,258.8 L321.0,261.2 L321.3,263.6 L321.5,266.0 L321.8,268.4 L322.0,270.8 L322.2,273.2 L319.9,273.8 L317.6,274.3 L315.3,274.9 L313.0,275.4 L310.7,275.9 L310.3,273.7 L309.9,271.5 L309.4,269.3 L309.0,267.1 L306.7,267.3 L304.4,267.4 L302.1,267.5 L299.8,267.6 L297.6,267.7 L295.3,267.8 L293.0,267.9 L290.7,268.0 L291.0,265.4 L291.3,262.8 L291.7,260.2 L292.5,258.3 L293.4,256.4 L294.3,254.5 L294.3,252.3 L294.4,250.1 L294.4,247.8 L294.4,245.6 L294.5,243.1 L294.7,240.6 L294.8,238.1 L294.9,235.6 L296.2,232.9 L297.5,230.2 L298.7,227.6 L300.0,225.3Z" fill="#c41c2e"/><path d="M320.4,221.8 L322.6,221.6 L324.7,221.5 L326.9,221.3 L329.1,221.1 L331.2,220.9 L333.4,220.8 L335.5,220.6 L337.7,220.4 L339.8,220.2 L342.0,220.0 L344.1,219.7 L344.8,222.3 L345.5,225.0 L346.2,227.6 L346.9,230.2 L347.6,232.8 L348.3,235.4 L349.0,238.0 L349.8,240.6 L350.5,243.2 L351.3,245.1 L352.0,247.1 L352.8,249.1 L352.8,251.7 L352.7,254.3 L352.7,256.9 L353.2,259.1 L353.8,261.3 L354.4,263.4 L352.1,263.7 L349.8,263.9 L347.6,264.1 L345.3,264.4 L343.0,264.6 L340.8,264.8 L338.5,265.0 L336.2,265.2 L334.0,265.4 L331.7,265.6 L329.4,265.8 L330.0,268.3 L330.5,270.9 L331.0,273.4 L328.6,273.9 L326.2,274.3 L324.2,273.8 L322.2,273.2 L322.0,270.8 L321.8,268.4 L321.5,266.0 L321.3,263.6 L321.0,261.2 L320.8,258.8 L320.6,256.4 L320.8,253.8 L320.9,251.2 L321.1,248.6 L321.3,245.9 L321.5,243.3 L321.7,240.7 L321.8,238.1 L322.0,235.5 L322.2,232.9 L321.7,230.1 L321.3,227.3 L320.9,224.6Z" fill="#c41c2e"/><path d="M344.1,219.7 L346.4,219.5 L348.7,219.3 L351.0,219.0 L353.2,218.8 L355.5,218.5 L357.8,218.3 L360.1,218.0 L362.3,217.7 L364.6,217.4 L366.9,217.1 L366.2,218.9 L365.5,220.7 L367.5,221.8 L369.5,223.0 L371.7,225.5 L373.9,228.0 L376.5,230.2 L379.2,232.4 L381.0,234.2 L382.8,236.0 L384.7,237.8 L386.0,239.6 L387.4,241.5 L388.8,243.3 L390.3,245.2 L391.8,247.0 L391.1,249.1 L390.5,251.2 L389.8,253.3 L389.5,255.5 L389.3,257.7 L389.0,260.0 L388.7,262.2 L387.0,262.9 L385.3,263.6 L383.6,264.3 L381.3,264.5 L379.0,264.7 L376.7,264.9 L374.4,265.1 L372.1,265.3 L369.8,265.5 L367.5,265.7 L365.2,265.8 L362.9,266.0 L360.6,266.2 L358.3,266.3 L356.0,266.5 L355.2,265.0 L354.4,263.4 L353.8,261.3 L353.2,259.1 L352.7,256.9 L352.7,254.3 L352.8,251.7 L352.8,249.1 L352.0,247.1 L351.3,245.1 L350.5,243.2 L349.8,240.6 L349.0,238.0 L348.3,235.4 L347.6,232.8 L346.9,230.2 L346.2,227.6 L345.5,225.0 L344.8,222.3Z" fill="#c41c2e"/><path d="M329.4,265.8 L331.7,265.6 L334.0,265.4 L336.2,265.2 L338.5,265.0 L340.8,264.8 L343.0,264.6 L345.3,264.4 L347.6,264.1 L349.8,263.9 L352.1,263.7 L354.4,263.4 L355.2,265.0 L356.0,266.5 L358.3,266.3 L360.6,266.2 L362.9,266.0 L365.2,265.8 L367.5,265.7 L369.8,265.5 L372.1,265.3 L374.4,265.1 L376.7,264.9 L379.0,264.7 L381.3,264.5 L383.6,264.3 L385.3,263.6 L387.0,262.9 L388.7,262.2 L389.4,264.4 L390.1,266.6 L390.8,268.8 L391.5,271.0 L392.7,273.4 L393.8,275.8 L395.0,278.3 L396.2,280.3 L397.4,282.4 L398.6,284.4 L399.8,286.5 L400.7,289.1 L401.6,291.8 L402.6,294.1 L403.6,296.5 L404.6,298.8 L405.6,301.2 L406.2,303.7 L406.8,306.2 L407.3,308.7 L407.3,310.7 L407.3,312.8 L407.3,314.8 L406.7,316.9 L406.2,319.0 L405.7,321.1 L403.5,321.5 L401.2,321.8 L399.0,322.2 L396.8,319.9 L394.6,317.6 L392.3,315.4 L391.3,312.9 L390.3,310.5 L389.3,308.1 L387.4,305.8 L385.6,303.6 L383.7,301.3 L381.9,299.1 L381.4,296.6 L380.9,294.0 L380.4,291.5 L380.2,289.3 L380.1,287.1 L379.9,284.9 L379.7,282.7 L377.3,281.3 L374.9,280.0 L372.7,278.0 L370.5,276.1 L368.3,274.1 L366.3,273.8 L364.3,273.5 L362.3,273.1 L360.2,274.9 L358.1,276.6 L356.0,278.3 L354.2,278.2 L352.5,278.1 L350.8,276.1 L349.1,274.0 L347.0,273.4 L344.9,272.8 L342.7,272.1 L340.6,271.5 L338.2,272.0 L335.8,272.5 L333.4,272.9 L331.0,273.4 L330.5,270.9 L330.0,268.3Z" fill="#c41c2e"/><path d="M377.2,197.8 L375.2,198.1 L373.2,198.4 L371.2,198.6 L369.2,198.9 L367.2,199.1 L365.2,199.4 L363.2,199.6 L361.3,199.9 L359.3,200.1 L357.1,200.4 L355.0,200.7 L352.8,201.0 L350.7,201.3 L348.5,201.6 L346.4,201.9 L344.2,202.2 L342.1,202.5 L339.9,202.8 L337.8,203.0 L335.6,203.3 L333.5,203.6 L331.3,203.8 L329.2,204.1 L327.0,204.3 L324.9,204.5 L322.7,204.8 L320.6,205.0 L318.4,205.2 L316.2,205.3 L314.1,205.5 L311.9,205.6 L309.7,205.7 L307.6,205.9 L306.8,208.7 L306.1,211.5 L305.4,214.4 L304.6,217.2 L302.9,220.1 L301.3,223.0 L303.5,222.9 L305.8,222.7 L308.1,222.6 L310.4,222.5 L312.6,222.3 L314.9,222.2 L317.2,222.0 L319.5,221.9 L321.7,221.7 L324.0,221.5 L326.3,221.4 L328.6,221.2 L330.8,221.0 L333.1,220.8 L335.4,220.6 L337.6,220.4 L339.9,220.2 L342.2,219.9 L344.4,219.7 L346.7,219.5 L349.0,219.2 L351.2,219.0 L353.5,218.7 L355.8,218.5 L357.0,216.7 L358.3,214.8 L360.2,213.3 L362.1,211.8 L363.9,210.3 L365.8,208.8 L367.7,207.8 L369.5,206.8 L371.4,205.7 L373.3,204.7 L375.1,203.6 L376.2,200.7Z" fill="#c41c2e"/><path d="M359.3,200.1 L357.1,200.4 L355.0,200.7 L352.8,201.0 L350.7,201.3 L348.5,201.6 L346.4,201.9 L344.2,202.2 L342.1,202.5 L339.9,202.8 L337.8,203.0 L335.6,203.3 L333.5,203.6 L331.3,203.8 L329.2,204.1 L327.0,204.3 L324.9,204.5 L322.7,204.8 L320.6,205.0 L318.4,205.2 L316.2,205.3 L314.1,205.5 L311.9,205.6 L309.7,205.7 L307.6,205.9 L308.9,204.7 L310.1,203.5 L310.5,201.9 L310.8,200.4 L310.4,200.1 L312.3,199.6 L314.2,199.1 L316.1,198.6 L317.7,196.3 L319.3,193.9 L319.5,192.2 L319.7,190.5 L321.5,189.8 L323.3,189.1 L325.1,189.0 L326.9,188.8 L328.6,188.7 L330.8,188.2 L332.9,187.7 L335.1,186.7 L337.2,185.7 L338.7,183.3 L340.2,180.9 L341.7,178.5 L343.4,177.9 L345.1,177.4 L346.8,176.8 L346.5,175.1 L346.2,173.5 L347.7,173.3 L349.2,173.2 L350.7,173.0 L352.6,174.4 L354.6,175.9 L356.5,177.4 L358.5,176.9 L360.5,176.5 L362.5,176.0 L364.4,177.5 L366.4,178.9 L367.6,181.4 L368.8,183.8 L370.0,186.3 L371.6,187.0 L373.2,187.7 L371.2,189.5 L369.2,191.2 L367.3,193.0 L365.3,194.8 L363.3,196.6 L361.3,198.3Z" fill="#c41c2e"/><path d="M359.3,200.1 L361.4,199.8 L363.6,199.6 L365.8,199.3 L368.0,199.1 L370.1,198.8 L372.3,198.5 L374.5,198.2 L376.7,197.9 L378.8,197.6 L381.0,197.3 L383.2,197.0 L385.3,196.7 L387.5,196.4 L389.7,196.1 L391.9,195.7 L394.0,195.4 L396.2,195.1 L398.3,194.7 L400.5,194.4 L402.7,194.0 L404.8,193.6 L407.0,193.3 L409.2,192.9 L411.3,192.5 L413.5,192.1 L415.6,191.7 L417.8,191.3 L420.0,190.9 L422.1,190.5 L424.3,190.1 L426.4,189.7 L428.6,189.3 L427.7,187.4 L426.9,185.6 L425.3,185.4 L423.8,185.1 L423.2,182.4 L422.7,179.6 L422.2,177.7 L421.8,175.7 L421.3,173.8 L419.2,173.2 L417.0,172.6 L414.9,172.1 L413.5,170.6 L412.1,169.2 L413.3,166.1 L411.3,165.1 L409.3,164.0 L408.0,163.1 L406.6,162.1 L405.0,163.6 L403.4,165.2 L401.5,166.6 L399.8,168.4 L398.1,170.1 L396.5,172.1 L394.8,174.0 L393.2,173.7 L391.6,173.4 L390.9,175.6 L390.3,177.8 L389.6,180.0 L388.7,183.0 L387.8,185.9 L386.4,186.9 L384.9,187.9 L383.4,188.9 L381.9,189.4 L380.4,189.9 L378.3,190.5 L376.2,191.1 L374.7,189.4 L373.2,187.7 L371.2,189.5 L369.2,191.2 L367.3,193.0 L365.3,194.8 L363.3,196.6 L361.3,198.3Z" fill="#f29d58"/><path d="M427.5,173.5 L427.4,175.5 L427.3,177.6 L427.2,179.6 L426.4,181.4 L425.6,183.3 L424.6,181.7 L424.3,179.3 L423.9,176.9 L423.5,174.4 L425.5,174.0Z" fill="#f2eabb"/><path d="M406.6,162.1 L405.2,161.0 L403.8,160.0 L401.7,160.6 L399.6,161.3 L398.1,161.8 L396.6,162.2 L395.1,162.7 L393.5,164.4 L391.9,166.0 L391.5,164.1 L391.2,162.2 L390.9,160.3 L389.1,160.6 L387.4,160.9 L385.6,161.2 L383.9,161.5 L382.1,161.7 L381.7,159.2 L381.3,156.7 L380.9,154.1 L380.5,151.6 L380.5,153.5 L380.4,155.5 L380.4,158.3 L380.4,161.1 L378.6,163.6 L376.8,166.2 L375.4,167.1 L373.9,168.1 L372.5,169.1 L371.6,171.4 L370.8,173.8 L370.0,176.2 L368.2,177.5 L366.4,178.9 L367.6,181.4 L368.8,183.8 L370.0,186.3 L371.6,187.0 L373.2,187.7 L374.7,189.4 L376.2,191.1 L378.3,190.5 L380.4,189.9 L381.9,189.4 L383.4,188.9 L384.9,187.9 L386.4,186.9 L387.8,185.9 L388.7,183.0 L389.6,180.0 L390.3,177.8 L390.9,175.6 L391.6,173.4 L393.2,173.7 L394.8,174.0 L396.5,172.1 L398.1,170.1 L399.8,168.4 L401.5,166.6 L403.4,165.2 L405.0,163.6Z" fill="#fbc68f"/><path d="M428.6,189.3 L426.4,189.7 L424.3,190.1 L422.2,190.5 L420.0,190.9 L417.9,191.3 L415.8,191.7 L413.6,192.1 L411.5,192.5 L409.4,192.8 L407.2,193.2 L405.1,193.6 L403.0,193.9 L400.8,194.3 L398.7,194.6 L396.5,195.0 L394.4,195.3 L392.2,195.7 L390.1,196.0 L387.9,196.3 L385.8,196.6 L383.7,196.9 L381.5,197.2 L379.4,197.5 L377.2,197.8 L376.2,200.7 L375.1,203.6 L373.3,204.7 L371.4,205.7 L369.5,206.8 L367.7,207.8 L365.8,208.8 L363.9,210.3 L362.1,211.8 L360.2,213.3 L358.3,214.8 L357.0,216.7 L355.8,218.5 L358.0,218.2 L360.2,218.0 L362.4,217.7 L364.6,217.4 L366.9,217.1 L368.9,216.1 L370.9,215.1 L372.9,214.1 L375.0,213.9 L377.0,213.7 L379.1,213.5 L381.1,213.3 L383.1,213.1 L385.2,212.9 L386.6,214.5 L388.0,216.2 L390.0,215.9 L392.0,215.7 L394.0,215.4 L396.0,215.1 L398.0,214.8 L400.4,216.5 L402.9,218.3 L405.3,220.0 L407.8,221.7 L410.2,223.4 L412.2,222.8 L414.1,222.3 L416.1,221.8 L416.9,219.4 L417.7,217.0 L418.5,214.6 L420.7,213.6 L422.8,212.6 L425.0,211.6 L427.1,210.6 L428.8,207.4 L430.5,204.2 L431.8,203.7 L433.0,203.1 L432.4,200.8 L431.7,198.5 L431.1,196.1 L430.3,193.8 L429.4,191.5Z" fill="#c41c2e"/><path d="M366.9,217.1 L368.9,216.1 L370.9,215.1 L372.9,214.1 L375.0,213.9 L377.0,213.7 L379.1,213.5 L381.1,213.3 L383.1,213.1 L385.2,212.9 L386.6,214.5 L388.0,216.2 L390.0,215.9 L392.0,215.7 L394.0,215.4 L396.0,215.1 L398.0,214.8 L400.4,216.5 L402.9,218.3 L405.3,220.0 L407.8,221.7 L410.2,223.4 L408.6,225.7 L407.0,228.1 L405.3,230.5 L403.6,233.1 L401.8,235.7 L400.0,238.2 L398.3,240.0 L396.7,241.7 L395.1,243.5 L393.4,245.3 L391.8,247.0 L390.3,245.2 L388.8,243.3 L387.4,241.5 L386.0,239.6 L384.7,237.8 L382.8,236.0 L381.0,234.2 L379.2,232.4 L376.5,230.2 L373.9,228.0 L371.7,225.5 L369.5,223.0 L367.5,221.8 L365.5,220.7 L366.2,218.9Z" fill="#c41c2e"/><path d="M343.2,144.6 L345.0,144.4 L346.9,144.1 L348.8,143.8 L350.7,143.6 L352.5,143.3 L354.4,143.0 L356.4,144.0 L358.5,145.1 L360.6,145.3 L362.8,145.6 L364.4,145.1 L366.0,144.6 L367.6,144.1 L369.2,143.6 L371.0,142.0 L372.7,140.5 L374.5,138.9 L376.3,137.9 L378.2,136.8 L378.6,139.3 L379.0,141.8 L379.3,144.2 L379.7,146.7 L380.1,149.1 L380.5,151.6 L380.5,153.5 L380.4,155.5 L380.4,158.3 L380.4,161.1 L378.6,163.6 L376.8,166.2 L375.4,167.1 L373.9,168.1 L372.5,169.1 L371.6,171.4 L370.8,173.8 L370.0,176.2 L368.2,177.5 L366.4,178.9 L364.4,177.5 L362.5,176.0 L360.5,176.5 L358.5,176.9 L356.5,177.4 L354.6,175.9 L352.6,174.4 L350.7,173.0 L349.2,173.2 L347.7,173.3 L346.2,173.5 L346.0,170.9 L345.7,168.2 L345.4,165.6 L345.1,163.0 L344.9,160.4 L344.6,157.7 L344.3,155.1 L344.0,152.5 L343.7,149.9 L343.5,147.3Z" fill="#c41c2e"/><path d="M343.1,144.0 L341.3,144.2 L339.4,144.4 L337.5,144.6 L335.7,144.8 L333.8,144.9 L332.0,145.1 L330.1,145.3 L328.3,145.5 L326.4,145.6 L324.9,146.5 L323.4,147.4 L322.0,147.1 L320.6,146.7 L320.8,149.3 L321.0,151.9 L321.3,154.5 L321.5,157.2 L321.7,159.8 L321.9,162.4 L322.1,165.0 L322.3,167.7 L322.5,170.3 L322.7,172.9 L322.6,175.4 L322.5,178.0 L321.8,180.3 L321.1,182.6 L320.4,184.9 L320.0,187.7 L319.7,190.5 L321.5,189.8 L323.3,189.1 L325.1,189.0 L326.9,188.8 L328.6,188.7 L330.8,188.2 L332.9,187.7 L335.1,186.7 L337.2,185.7 L338.7,183.3 L340.2,180.9 L341.7,178.5 L343.4,177.9 L345.1,177.4 L346.8,176.8 L346.5,175.1 L346.2,173.5 L346.0,170.8 L345.7,168.1 L345.4,165.4 L345.1,162.7 L344.8,160.1 L344.5,157.4 L344.2,154.7 L344.0,152.0 L343.7,149.3 L343.4,146.7Z" fill="#fbc68f"/><path d="M294.2,139.5 L296.2,139.4 L298.1,139.3 L300.1,139.2 L302.0,139.1 L304.0,139.0 L305.9,138.9 L307.9,138.8 L309.8,138.6 L311.8,138.5 L313.7,138.4 L315.7,138.2 L317.6,138.1 L318.4,140.4 L319.1,142.8 L319.9,145.2 L320.6,146.7 L320.8,149.3 L321.0,151.9 L321.3,154.5 L321.5,157.2 L321.7,159.8 L321.9,162.4 L322.1,165.0 L322.3,167.7 L322.5,170.3 L322.7,172.9 L322.6,175.4 L322.5,178.0 L321.8,180.3 L321.1,182.6 L320.4,184.9 L320.0,187.7 L319.7,190.5 L319.5,192.2 L319.3,193.9 L317.7,196.3 L316.1,198.6 L314.2,199.1 L312.3,199.6 L310.4,200.1 L308.7,198.5 L307.1,197.0 L306.7,194.2 L306.3,191.4 L304.0,189.1 L301.6,186.8 L299.3,184.5 L299.6,182.0 L299.9,179.5 L297.7,177.3 L295.4,175.2 L294.0,172.7 L292.6,170.3 L291.3,168.0 L290.0,165.7 L288.7,163.4 L290.0,161.6 L291.3,159.7 L291.5,157.5 L291.7,155.3 L291.8,153.0 L293.7,151.4 L295.6,149.9 L297.5,148.3 L298.0,146.0 L298.5,143.8 L296.4,141.7Z" fill="#f2eabb"/><path d="M294.2,139.5 L296.2,139.4 L298.1,139.3 L300.1,139.2 L302.0,139.1 L304.0,139.0 L305.9,138.9 L307.9,138.8 L309.8,138.6 L311.8,138.5 L313.7,138.4 L315.7,138.2 L317.6,138.1 L317.2,135.3 L316.8,132.6 L316.9,130.3 L317.1,128.1 L317.2,125.8 L317.3,123.6 L317.6,121.4 L317.8,119.1 L318.0,116.9 L318.2,114.6 L319.4,112.1 L320.5,109.6 L321.6,107.1 L320.1,108.7 L318.7,110.3 L317.2,111.9 L315.8,114.0 L314.3,116.0 L314.8,113.8 L315.2,111.5 L315.6,109.3 L316.0,107.0 L317.0,109.2 L315.7,106.7 L314.5,104.2 L313.2,101.7 L311.2,101.0 L309.2,100.3 L307.2,99.6 L305.2,98.9 L303.4,98.5 L301.7,98.0 L299.9,97.6 L298.2,97.1 L296.5,96.7 L295.2,95.5 L294.0,94.4 L292.0,93.8 L290.1,93.1 L288.9,92.3 L287.7,91.6 L285.9,91.9 L284.2,92.3 L282.5,92.6 L280.7,92.9 L279.3,94.0 L279.4,96.1 L279.4,98.2 L279.5,100.4 L278.0,103.0 L276.4,105.7 L276.3,108.5 L276.1,111.3 L276.0,113.2 L275.8,115.2 L277.9,116.5 L279.9,117.8 L281.6,119.4 L283.2,121.1 L285.0,122.5 L286.8,123.9 L288.6,125.3 L288.8,127.0 L289.0,128.6 L289.4,131.4 L289.8,134.2 L291.3,135.9 L292.8,137.7Z" fill="#c41c2e"/><path d="M326.4,145.6 L328.3,145.5 L330.1,145.3 L332.0,145.1 L333.8,144.9 L335.7,144.8 L337.5,144.6 L339.4,144.4 L341.3,144.2 L343.1,144.0 L343.2,144.6 L345.0,144.4 L346.9,144.1 L348.8,143.8 L350.7,143.6 L352.5,143.3 L354.4,143.0 L355.4,141.1 L356.4,139.1 L358.0,136.9 L359.5,134.6 L361.0,132.4 L361.1,130.1 L361.2,127.8 L360.5,125.7 L359.8,123.6 L359.1,121.4 L357.4,119.1 L355.6,116.8 L353.7,117.9 L351.8,119.0 L350.0,120.9 L348.2,122.8 L349.0,120.1 L349.7,117.4 L350.5,114.7 L350.7,112.4 L351.0,110.1 L351.2,107.9 L349.1,105.5 L346.9,103.2 L344.8,100.9 L342.9,100.3 L341.0,99.8 L339.1,99.3 L338.1,101.6 L337.2,103.9 L335.7,105.2 L334.3,106.5 L333.7,108.8 L333.2,111.0 L331.7,112.3 L330.2,113.6 L328.7,114.8 L328.1,117.1 L327.5,119.4 L326.9,121.7 L327.6,124.1 L328.4,126.6 L329.1,129.0 L329.9,131.4 L329.4,134.1 L329.0,136.7 L328.5,139.4 L327.8,141.5 L327.1,143.5Z" fill="#c41c2e"/><path d="M294.0,94.4 L295.7,93.5 L297.4,92.7 L299.1,91.8 L300.8,90.9 L302.6,89.5 L304.3,88.1 L306.1,86.6 L307.8,85.2 L309.6,83.7 L311.5,83.6 L313.4,83.4 L312.0,85.4 L310.6,87.3 L309.2,89.3 L311.2,90.4 L313.3,91.5 L315.3,92.5 L317.3,93.6 L319.1,93.2 L320.9,92.8 L322.7,92.3 L324.5,91.9 L326.2,91.5 L328.0,91.0 L329.9,90.5 L331.8,90.1 L333.7,89.6 L335.6,89.1 L337.3,90.6 L339.1,92.1 L341.0,91.6 L342.9,91.1 L344.0,93.7 L345.1,96.4 L343.6,97.0 L342.0,97.6 L340.5,98.2 L339.0,98.7 L337.4,98.2 L335.7,97.7 L334.1,97.2 L332.5,96.7 L330.6,97.7 L328.8,98.7 L326.9,99.7 L325.0,100.7 L323.5,101.2 L321.9,101.7 L320.4,102.2 L319.3,104.5 L318.1,106.9 L317.0,109.2 L315.7,106.7 L314.5,104.2 L313.2,101.7 L311.2,101.0 L309.2,100.3 L307.2,99.6 L305.2,98.9 L303.4,98.5 L301.7,98.0 L299.9,97.6 L298.2,97.1 L296.5,96.7 L295.2,95.5Z" fill="#c41c2e"/><path d="M377.7,133.6 L379.2,133.4 L380.8,133.2 L382.4,132.9 L383.9,132.6 L384.2,134.1 L384.4,135.6 L386.4,135.3 L388.4,134.9 L390.4,134.6 L392.4,134.3 L394.4,133.9 L396.4,133.5 L398.4,133.2 L400.4,132.8 L402.4,132.4 L404.4,132.1 L406.4,131.7 L408.4,131.3 L410.4,130.9 L412.4,130.5 L414.4,130.1 L416.4,129.7 L418.3,129.2 L420.3,128.8 L422.1,130.7 L423.8,132.6 L425.5,133.6 L427.2,134.6 L426.5,136.7 L425.9,138.8 L425.2,140.9 L425.9,143.3 L426.6,145.7 L428.1,146.5 L429.6,147.3 L427.9,149.1 L426.3,150.8 L424.6,152.5 L423.3,153.5 L422.0,154.5 L419.9,154.9 L417.8,155.3 L415.7,155.7 L413.7,156.2 L411.6,156.6 L409.5,157.0 L407.4,157.4 L405.3,157.8 L403.2,158.2 L401.1,158.5 L399.0,158.9 L396.8,159.3 L394.7,159.7 L392.6,160.0 L390.5,160.4 L388.4,160.7 L386.3,161.1 L384.2,161.4 L382.1,161.7 L381.7,159.2 L381.3,156.6 L380.9,154.1 L380.5,151.5 L380.1,149.0 L379.7,146.4 L379.3,143.9 L378.9,141.3 L378.5,138.7 L378.1,136.2Z" fill="#fbc68f"/><path d="M384.4,135.6 L386.4,135.3 L388.4,134.9 L390.4,134.6 L392.4,134.3 L394.4,133.9 L396.4,133.5 L398.4,133.2 L400.4,132.8 L402.4,132.4 L404.4,132.1 L406.4,131.7 L408.4,131.3 L410.4,130.9 L412.4,130.5 L414.4,130.1 L416.4,129.7 L418.3,129.2 L420.3,128.8 L422.1,130.7 L423.8,132.6 L425.5,133.6 L427.2,134.6 L429.1,135.3 L431.0,135.9 L432.8,136.5 L434.7,137.2 L434.7,138.8 L434.6,140.5 L435.7,138.7 L436.8,136.8 L437.7,135.2 L437.1,132.6 L436.5,130.1 L435.9,127.5 L435.3,124.9 L434.8,122.3 L434.2,119.7 L433.7,117.1 L433.3,114.8 L432.9,112.5 L432.5,110.2 L432.1,107.9 L431.6,105.4 L431.1,102.8 L430.5,100.3 L430.0,97.7 L429.5,95.2 L428.9,92.6 L427.1,93.0 L425.4,93.4 L423.6,93.9 L421.8,94.3 L420.0,94.7 L418.2,95.1 L416.8,96.0 L415.5,96.9 L414.2,97.8 L412.8,99.8 L411.4,101.7 L409.9,103.7 L408.5,105.7 L408.4,108.2 L408.4,110.7 L408.3,113.1 L406.7,114.2 L405.1,115.4 L403.5,116.5 L401.9,117.6 L400.3,118.7 L398.2,118.8 L396.2,118.9 L394.1,119.0 L392.1,119.1 L390.7,119.7 L389.3,120.3 L387.8,120.9 L388.1,122.6 L388.4,124.2 L386.9,127.0 L385.4,129.8 L383.9,132.6 L384.2,134.1Z" fill="#f2eabb"/><path d="M434.4,141.7 L436.0,141.3 L437.5,141.0 L439.0,140.6 L440.9,139.3 L442.7,138.0 L444.6,136.7 L446.4,135.4 L448.3,134.1 L450.1,132.8 L448.2,133.8 L446.3,134.9 L444.5,135.4 L442.7,136.0 L441.0,136.5 L439.2,137.0 L437.4,137.6 L435.9,139.6Z" fill="#f2eabb"/><path d="M428.9,92.6 L430.7,92.2 L432.4,91.8 L434.2,91.4 L435.9,91.0 L437.6,90.6 L439.4,90.2 L441.1,89.7 L440.6,92.7 L440.2,95.7 L439.7,98.7 L439.2,101.6 L439.0,104.4 L438.9,107.2 L438.7,110.0 L438.5,112.8 L438.3,115.6 L436.8,116.1 L435.3,116.6 L433.7,117.1 L433.3,114.8 L432.9,112.5 L432.5,110.2 L432.1,107.9 L431.6,105.4 L431.1,102.8 L430.5,100.3 L430.0,97.7 L429.5,95.2Z" fill="#f2eabb"/><path d="M441.1,89.7 L442.8,88.4 L444.4,87.0 L445.1,89.3 L445.7,91.6 L446.4,94.0 L447.0,96.3 L447.7,98.7 L448.3,101.0 L449.0,103.4 L450.9,105.8 L452.8,108.2 L455.0,108.4 L454.7,110.6 L452.9,111.2 L451.1,111.8 L449.3,112.3 L447.4,112.9 L445.6,113.4 L443.8,114.0 L442.0,114.5 L440.2,115.1 L438.3,115.6 L438.5,112.8 L438.7,110.0 L438.9,107.2 L439.0,104.4 L439.2,101.6 L439.7,98.7 L440.2,95.7 L440.6,92.7Z" fill="#f2eabb"/><path d="M444.4,87.0 L445.4,84.6 L446.5,82.3 L447.5,80.0 L447.6,77.3 L447.7,74.6 L447.8,71.9 L447.9,69.2 L448.0,66.5 L448.1,63.8 L449.1,61.6 L450.0,59.4 L451.8,59.0 L453.5,58.6 L455.3,58.3 L457.0,57.9 L458.8,57.5 L460.4,58.3 L462.1,59.2 L463.8,60.0 L464.4,62.2 L465.0,64.4 L465.6,66.5 L466.2,68.7 L467.5,70.6 L468.7,72.5 L470.0,74.3 L471.2,76.2 L473.3,77.7 L475.4,79.1 L477.5,80.6 L476.2,82.4 L475.0,84.3 L473.8,86.2 L472.3,87.2 L470.8,88.3 L469.3,89.3 L467.8,90.3 L466.3,91.3 L465.0,92.5 L463.8,93.8 L462.5,95.1 L461.3,96.3 L459.7,97.9 L458.1,99.4 L456.6,101.0 L455.0,102.5 L455.0,104.5 L455.0,106.4 L455.0,108.4 L452.8,108.2 L450.9,105.8 L449.0,103.4 L448.3,101.0 L447.7,98.7 L447.0,96.3 L446.4,94.0 L445.7,91.6 L445.1,89.3Z" fill="#f2eabb"/><path d="M435.3,124.9 L434.8,122.3 L434.2,119.7 L433.7,117.1 L435.3,116.6 L436.8,116.1 L438.3,115.6 L440.2,115.1 L442.0,114.5 L443.8,114.0 L445.6,113.4 L447.4,112.9 L449.3,112.3 L451.1,111.8 L452.9,111.2 L454.7,110.6 L455.9,111.9 L457.1,113.1 L455.9,115.2 L454.7,117.2 L457.5,119.4 L460.2,121.5 L461.8,119.6 L463.5,117.7 L464.3,119.8 L465.0,121.9 L463.4,122.8 L461.7,123.6 L460.1,124.4 L458.7,125.0 L457.4,125.5 L456.0,126.1 L454.8,124.4 L453.7,122.7 L452.5,121.0 L450.8,121.4 L449.1,121.9 L447.1,122.3 L445.2,122.8 L443.2,123.2 L441.2,123.6 L439.2,124.1 L437.3,124.5Z" fill="#f2eabb"/><path d="M449.1,121.9 L450.8,121.4 L452.5,121.0 L453.7,122.7 L454.8,124.4 L456.0,126.1 L454.2,127.2 L452.4,128.4 L450.6,129.5 L450.1,127.0 L449.6,124.4Z" fill="#f2eabb"/><path d="M435.3,124.9 L437.3,124.5 L439.2,124.1 L441.2,123.6 L443.2,123.2 L445.2,122.8 L447.1,122.3 L449.1,121.9 L449.6,124.4 L450.1,127.0 L450.6,129.5 L448.9,130.1 L447.3,130.7 L445.6,131.3 L443.9,131.8 L442.2,132.4 L440.4,133.9 L438.6,135.3 L436.8,136.8 L437.7,135.2 L437.1,132.6 L436.5,130.1 L435.9,127.5Z" fill="#f2eabb"/><path d="M427.2,134.6 L429.1,135.3 L431.0,135.9 L432.8,136.5 L434.7,137.2 L434.7,138.8 L434.6,140.5 L434.4,143.4 L434.5,146.0 L434.7,148.5 L434.5,150.8 L434.4,153.1 L433.7,155.0 L433.0,156.9 L432.0,159.2 L431.0,161.6 L429.7,159.6 L428.5,157.6 L427.2,155.6 L425.9,154.1 L424.6,152.5 L426.3,150.8 L427.9,149.1 L429.6,147.3 L428.1,146.5 L426.6,145.7 L425.9,143.3 L425.2,140.9 L425.9,138.8 L426.5,136.7Z" fill="#f2eabb"/><path d="M422.0,154.5 L423.3,153.5 L424.6,152.5 L425.6,155.0 L425.6,157.1 L425.6,159.3 L426.6,161.0 L427.7,162.7 L428.7,164.4 L429.0,166.8 L429.3,169.2 L427.5,169.4 L425.6,169.6 L423.8,169.8 L423.4,167.4 L423.0,164.9 L422.6,162.5 L422.2,160.0 L422.1,157.2Z" fill="#f2eabb"/><path d="M390.9,160.3 L393.0,160.0 L395.1,159.6 L397.1,159.2 L399.2,158.9 L401.3,158.5 L403.4,158.1 L405.5,157.7 L407.5,157.3 L409.6,156.9 L411.7,156.5 L413.8,156.1 L415.8,155.7 L417.9,155.3 L420.0,154.9 L422.0,154.5 L422.1,157.2 L422.2,160.0 L422.6,162.5 L423.0,164.9 L423.4,167.4 L423.8,169.8 L425.6,169.6 L427.5,169.4 L429.3,169.2 L428.4,171.4 L427.5,173.5 L425.5,174.0 L423.5,174.4 L422.5,172.3 L421.5,170.2 L420.4,168.1 L419.4,165.7 L418.3,163.2 L417.3,160.8 L418.3,159.0 L419.4,157.2 L417.8,158.2 L416.3,159.3 L416.1,161.5 L415.9,163.8 L415.7,166.0 L417.0,168.1 L418.3,170.2 L419.8,172.0 L421.3,173.8 L419.2,173.2 L417.0,172.6 L414.9,172.1 L413.5,170.6 L412.1,169.2 L413.3,166.1 L411.3,165.1 L409.3,164.0 L408.0,163.1 L406.6,162.1 L405.2,161.0 L403.8,160.0 L401.7,160.6 L399.6,161.3 L398.1,161.8 L396.6,162.2 L395.1,162.7 L393.5,164.4 L391.9,166.0 L391.5,164.1 L391.2,162.2Z" fill="#f2eabb"/><path d="M34.375,245.625 L36.25,243.75 L40.0,242.5 L43.125,242.75 L46.875,244.375 L51.25,245.0 L57.5,246.5 L60.25,274.75 L62.5,275.0 L64.0,276.25 L65.625,277.75 L63.75,277.5 L61.875,276.5 L58.75,275.25 L55.625,274.0 L52.75,272.25 L51.0,274.75 L48.125,276.625 L45.0,278.75 L41.875,280.625 L38.75,282.75 L35.0,285.25 L30.625,287.75 L26.875,289.375 L31.875,284.75 L36.875,281.25 L40.0,278.75 L36.25,278.5 L32.5,277.25 L29.0,274.75 L27.25,271.5 L27.75,267.75 L31.25,266.25 L30.25,264.25 L27.25,262.25 L26.25,258.25 L29.0,257.0 L31.875,256.5 L30.25,252.75 L29.375,249.375 L32.5,247.5Z" fill="#c41c2e" stroke-width="1.1"/>
</g>
<g><circle cx="80.2" cy="285.2" r="1.3" fill="none" stroke="#4a2626" stroke-width="1"/>
<ellipse cx="91.1" cy="289.4" rx="1.6" ry="0.8" fill="#4a2626" transform="rotate(25 91.1 289.4)"/>
<path d="M95.5,291.5 L99.5,292.5 L98,294 Z" fill="#4a2626"/>
<ellipse cx="102.3" cy="293.8" rx="1.8" ry="1.2" fill="none" stroke="#4a2626" stroke-width="0.9"/>
<path d="M105,298 L108,297.5 L112,300.5 L113,303 L110,305 L108,307 L106,305 L105.5,301 Z" fill="#f29d58" stroke="#4a2626" stroke-width="0.6"/></g>
<g stroke="#4a2626" stroke-width="1" fill="none"><path d="M393,331 L397,329.5"/><path d="M402.5,327 L406,323.5"/></g>
<g stroke="#2a2a35" stroke-width="1.1" stroke-linecap="round" fill="none"><path d="M28.8,206 L31,206.4"/><path d="M33,207 L35.5,207.6"/><path d="M40.5,213.5 L41.2,215.5"/><path d="M41.8,219.5 L42.6,222.3"/></g>
<ellipse cx="112.3" cy="141.6" rx="2.3" ry="5.8" fill="#fff" stroke="#4a2626" stroke-width="0.5" transform="rotate(-28 112.3 141.6)"/>
<g font-size="8.4" font-weight="bold" fill="#2a2020" text-anchor="middle">
<text x="67.5" y="65.2">WA</text><text x="54" y="100.2">OR</text><text x="149" y="85.7">MT</text><text x="216" y="86.7">ND</text><text x="260" y="101.7">MN</text><text x="102.5" y="116.7">ID</text><text x="155" y="130.2">WY</text><text x="216" y="121.7">SD</text><text x="297.5" y="120.2">WI</text><text x="342.5" y="131.2">MI</text><text x="217.5" y="151.2">NE</text><text x="269" y="148.7">IA</text><text x="70" y="156.2">NV</text><text x="115" y="168.7">UT</text><text x="166.5" y="179.2">CO</text><text x="307.5" y="171.2">IL</text><text x="331.5" y="166.7">IN</text><text x="39" y="178.7">CA</text><text x="226.5" y="186.7">KS</text><text x="277.5" y="191.7">MO</text><text x="348.5" y="193.2">KY</text><text x="105" y="221.2">AZ</text><text x="155" y="227.7">NM</text><text x="236" y="222.7">OK</text><text x="281" y="229.2">AR</text><text x="334" y="215.2">TN</text><text x="360" y="162.7">OH</text><text x="218" y="265.95">TX</text><text x="281.25" y="273.95">LA</text><text x="308.25" y="250.2">MS</text><text x="334.5" y="248.45">AL</text><text x="366.25" y="246.45">GA</text><text x="389.25" y="231.95">SC</text><text x="388" y="293.2">FL</text><text x="418.5" y="121.7">NY</text><text x="458.5" y="84.2">ME</text><text x="401" y="149.2">PA</text><text x="378.5" y="182.2">WV</text><text x="403.5" y="185.2">VA</text><text x="400" y="207.7">NC</text><text x="46" y="264.2">AK</text><text x="95" y="305.2">HI</text>
<line x1="435.5" y1="76.4" x2="440" y2="89" stroke="#4a4a4a" stroke-width="0.75"/><line x1="427.5" y1="88.9" x2="434" y2="98" stroke="#4a4a4a" stroke-width="0.75"/><line x1="466.5" y1="118.3" x2="456" y2="118.3" stroke="#4a4a4a" stroke-width="0.75"/><line x1="466.5" y1="134.5" x2="452.4" y2="125.6" stroke="#4a4a4a" stroke-width="0.75"/><line x1="466.5" y1="148.5" x2="445.5" y2="133.6" stroke="#4a4a4a" stroke-width="0.75"/><line x1="466.5" y1="162.5" x2="434" y2="147.4" stroke="#4a4a4a" stroke-width="0.75"/><line x1="466.5" y1="176.5" x2="429.5" y2="163.4" stroke="#4a4a4a" stroke-width="0.75"/><line x1="466.5" y1="190.5" x2="425" y2="168" stroke="#4a4a4a" stroke-width="0.75"/><line x1="466.5" y1="205" x2="419.5" y2="166" stroke="#4a4a4a" stroke-width="0.75"/><rect x="426.75" y="64.8" width="15.5" height="11" rx="2.5" fill="#f2eabb" stroke="#5a5045" stroke-width="0.9"/><text x="434.5" y="73.0">NH</text><rect x="415.5" y="77.5" width="15.5" height="11" rx="2.5" fill="#f2eabb" stroke="#5a5045" stroke-width="0.9"/><text x="423.25" y="85.7">VT</text><rect x="466.5" y="112.5" width="15.5" height="11" rx="2.5" fill="#f2eabb" stroke="#5a5045" stroke-width="0.9"/><text x="474.25" y="120.7">MA</text><rect x="466.5" y="129.5" width="15.5" height="11" rx="2.5" fill="#f2eabb" stroke="#5a5045" stroke-width="0.9"/><text x="474.25" y="137.7">RI</text><rect x="466.5" y="143" width="15.5" height="11" rx="2.5" fill="#f2eabb" stroke="#5a5045" stroke-width="0.9"/><text x="474.25" y="151.2">CT</text><rect x="466.5" y="157" width="15.5" height="11" rx="2.5" fill="#f2eabb" stroke="#5a5045" stroke-width="0.9"/><text x="474.25" y="165.2">NJ</text><rect x="466.5" y="171" width="15.5" height="11" rx="2.5" fill="#f2eabb" stroke="#5a5045" stroke-width="0.9"/><text x="474.25" y="179.2">DE</text><rect x="466.5" y="185" width="15.5" height="11" rx="2.5" fill="#f2eabb" stroke="#5a5045" stroke-width="0.9"/><text x="474.25" y="193.2">MD</text><rect x="466.5" y="199.5" width="15.5" height="11" rx="2.5" fill="#f2eabb" stroke="#5a5045" stroke-width="0.9"/><text x="474.25" y="207.7">DC</text>
</g>

<rect x="513" y="159.3" width="17" height="16.7" fill="#c41c2e" stroke="#8a1a20" stroke-width="0.8"/>
<rect x="512.5" y="213" width="17.5" height="17" fill="#f29d58" stroke="#d08048" stroke-width="0.8"/>
<rect x="512.5" y="267" width="17.5" height="17" fill="#fbc68f" stroke="#e0a070" stroke-width="0.8"/>
<rect x="512.5" y="308.5" width="17.5" height="17" fill="#f2eabb" stroke="#e0d8a8" stroke-width="0.8"/>
<g font-size="10.3" fill="#5a5a5a">
<text transform="translate(537,167) scale(0.78,1)" x="0" y="0" textLength="203.2" lengthAdjust="spacing">Both a constitutional amendment and</text>
<text transform="translate(537,180.5) scale(0.78,1)" x="0" y="0" textLength="188.1" lengthAdjust="spacing">statute ban marriage for same-sex</text>
<text transform="translate(537,193.8) scale(0.78,1)" x="0" y="0" textLength="103.2" lengthAdjust="spacing">couples <tspan font-style="italic" fill="#7a7a7a">(25 states)</tspan></text>
<text transform="translate(537,221.3) scale(0.78,1)" x="0" y="0" textLength="208.3" lengthAdjust="spacing">Only a constitutional amendment bans</text>
<text transform="translate(537,234.5) scale(0.78,1)" x="0" y="0" textLength="183.3" lengthAdjust="spacing">marriage for same-sex couples <tspan font-style="italic" fill="#7a7a7a">(5</tspan></text>
<text transform="translate(537,248) scale(0.78,1)" x="0" y="0" textLength="112.2" lengthAdjust="spacing"><tspan font-style="italic" fill="#7a7a7a">states including HI*)</tspan></text>
<text transform="translate(537.3,275.7) scale(0.78,1)" x="0" y="0" textLength="209.9" lengthAdjust="spacing">Only a statute bans marriage for same-</text>
<text transform="translate(537.3,288.5) scale(0.78,1)" x="0" y="0" textLength="116.7" lengthAdjust="spacing">sex couples <tspan font-style="italic" fill="#7a7a7a">(5 states)</tspan></text>
<text transform="translate(537.3,316.5) scale(0.78,1)" x="0" y="0" textLength="193.2" lengthAdjust="spacing">Neither statute nor amendment ban</text>
<text transform="translate(537.3,329.3) scale(0.78,1)" x="0" y="0" textLength="191.4" lengthAdjust="spacing">marriage for same-sex couples <tspan font-style="italic" fill="#7a7a7a">(15</tspan></text>
<text transform="translate(537.3,342.7) scale(0.78,1)" x="0" y="0" textLength="150.3" lengthAdjust="spacing"><tspan font-style="italic" fill="#7a7a7a">states, DC, and 5 territories)</tspan></text>
</g>

<line x1="35" y1="349" x2="205" y2="349" stroke="#cfcfcf" stroke-width="1.5"/>
<line x1="290" y1="349" x2="461.7" y2="349" stroke="#cfcfcf" stroke-width="1.5"/>
<text x="212.7" y="353.3" textLength="70.6" lengthAdjust="spacingAndGlyphs" font-size="11" font-weight="bold" fill="#333">U.S. Territories</text>
<g font-size="7" font-weight="bold" fill="#222">
<text x="44" y="378.3" textLength="60" lengthAdjust="spacingAndGlyphs">American Samoa</text>
<text x="144" y="372.7" textLength="77.3" lengthAdjust="spacingAndGlyphs">Commonwealth of the</text>
<text x="138.3" y="381.7" textLength="89" lengthAdjust="spacingAndGlyphs">Northern Mariana Islands</text>
<text x="257.3" y="378.3" textLength="21.7" lengthAdjust="spacingAndGlyphs">Guam</text>
<text x="318.3" y="378.3" textLength="41" lengthAdjust="spacingAndGlyphs">Puerto Rico</text>
<text x="390.7" y="378.3" textLength="64.3" lengthAdjust="spacingAndGlyphs">U.S. Virgin Islands</text>
</g>
<g fill="#f2eabb" stroke="#5a5040" stroke-width="0.8" stroke-linejoin="round">
<path d="M36.25,418.1 L41.25,415.6 L46.25,416.25 L50,411.9 L56.9,413.1 L57.5,415.6 L51.25,416.9 L46.25,418.1 L43.75,422.5 L41.25,421.9 L37.5,420.6Z"/>
<path d="M98.75,413.1 L105,412.5 L110.6,413.1 L111.9,416.9 L111.25,420 L107.5,419.4 L105,421.25 L101.9,420 L100.6,416.25Z"/>
<path d="M190.3,398.1 L192.1,399.9 L189.4,405.3 L187.6,407.2 L188.5,409 L185.8,409.9 L184.9,413.5 L182.2,413.5 L182.2,408.1 L184.9,403.5 L188.5,399.9Z"/>
<path d="M177.6,418.9 L179.4,421.6 L179.1,426.1 L180.3,429.7 L179.4,433.3 L177.6,432.4 L174.9,427.9 L174,424.3 L176.7,421.6Z"/>
<path d="M275.1,397.2 L282.4,401.7 L283.3,403.5 L278.8,406.3 L276,410.8 L269.7,413.5 L266.1,416.2 L267.9,421.6 L267.9,427.9 L264.3,433.3 L258.9,433.3 L256.2,428.8 L257.1,422.5 L255.3,418 L253.5,416.2 L257.1,417.1 L260.7,414.4 L266.1,411.7 L271.5,407.2 L273.3,400.8Z"/>
<path d="M310,409.4 L313.3,406.1 L322.2,407.2 L335.6,408.3 L348.9,408.3 L362.2,409 L366.7,410.6 L367.8,415 L364.4,417.2 L355.6,420.6 L344.4,423.9 L328.9,423.2 L317.8,423.9 L312.2,421.7 L311.1,416.1 L308.9,412.8Z"/>
<path d="M394.4,395 L400,392.8 L408.9,393.9 L413.3,392.8 L420,397.2 L424.4,399.4 L423.3,401.7 L417.8,400.6 L413.3,399.4 L406.7,398.3 L400,397.2Z"/>
<path d="M430,397.2 L433.3,393.9 L442.2,393.4 L446.7,396.1 L450,397.2 L445.6,401.7 L440,402.8 L433.3,400.6Z"/>
<path d="M401.1,423.9 L405.6,420.6 L415.6,419.4 L421.1,419.4 L428.9,421.7 L437.8,422.8 L451.1,422.8 L442.2,427.2 L426.7,429.4 L413.3,431.7 L402.2,432.3Z"/>
<path d="M77.5,409.5 Q80,411.5 82.5,409.5" fill="none"/>
<circle cx="86.25" cy="409.4" r="0.7" fill="#5a5040"/>
</g>
<text transform="translate(13.3,469.3) scale(0.8,1)" x="0" y="0" textLength="755.6" lengthAdjust="spacing" font-size="9" fill="#555" stroke="#555" stroke-width="0.12">Note: * Hawai&#8217;i&#8217;s constitution states that the legislature is permitted to restrict marriage to one man and one woman, not that only those marriages can be recognized.</text>
</svg>
</body></html>
